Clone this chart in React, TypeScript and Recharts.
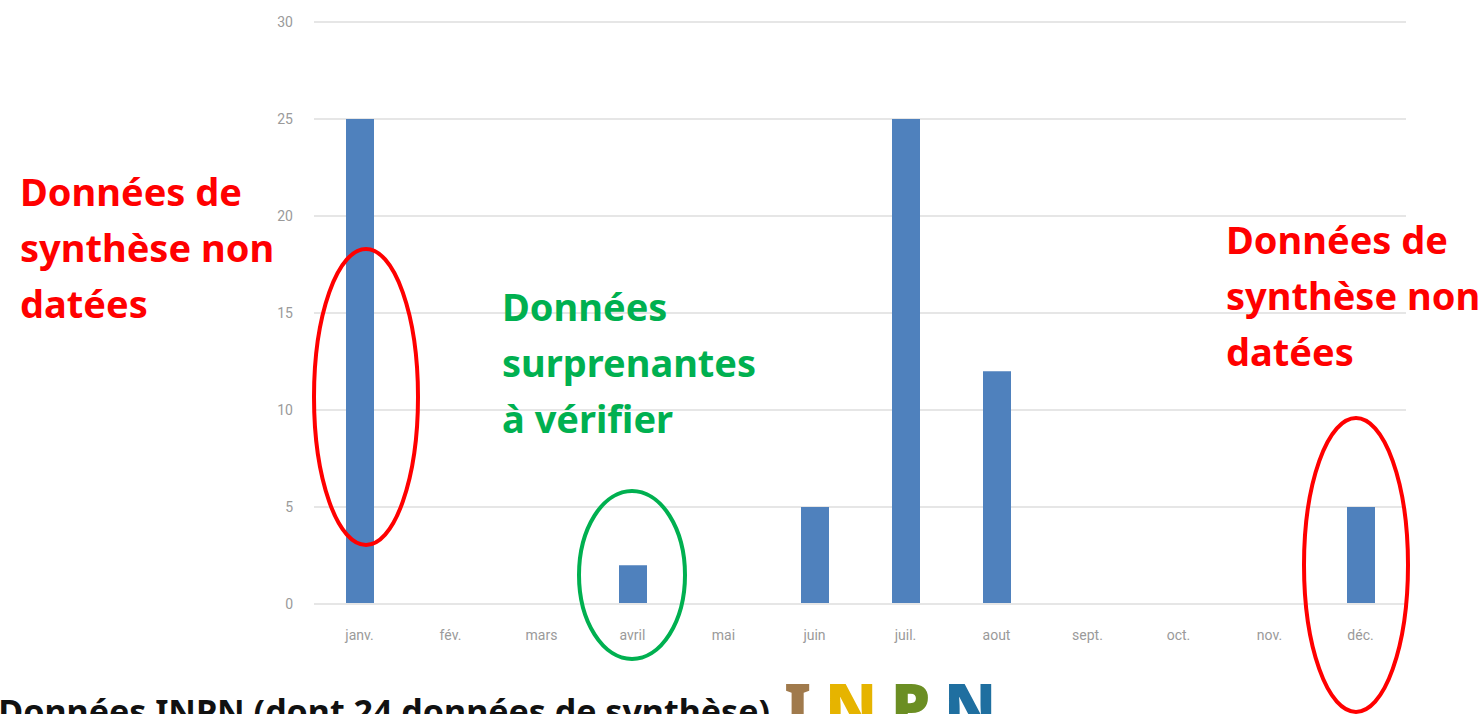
import { BarChart, Bar, XAxis, YAxis, CartesianGrid } from 'recharts'

const MONTHS = ['janv.', 'fév.', 'mars', 'avril', 'mai', 'juin', 'juil.', 'aout', 'sept.', 'oct.', 'nov.', 'déc.']
const COUNTS = [25, 0, 0, 2, 0, 5, 25, 12, 0, 0, 0, 5]
const Y_TICKS = [0, 5, 10, 15, 20, 25, 30]

const LEFT_NOTE = ['Données de', 'synthèse non', 'datées']
const MID_NOTE = ['Données', 'surprenantes', 'à vérifier']
const RIGHT_NOTE = ['Données de', 'synthèse non', 'datées']

const data = MONTHS.map((month, i) => ({ month, count: COUNTS[i] }))

const RED = '#ff0000'
const GREEN = '#00b050'
const NOTE_FONT = '"Noto Sans", sans-serif'

function Note({ lines, x, y, color }: { lines: string[]; x: number; y: number; color: string }) {
  return (
    <text x={x} y={y} fill={color} fontFamily={NOTE_FONT} fontWeight={700} fontSize={38}>
      {lines.map((line, i) => (
        <tspan key={i} x={x} dy={i === 0 ? 0 : 56}>
          {line}
        </tspan>
      ))}
    </text>
  )
}

export default function App() {
  return (
    <div style={{ position: 'absolute', left: 0, top: 0, width: 1483, height: 714, overflow: 'hidden', background: '#fff' }}>
      <BarChart
        width={1483}
        height={714}
        data={data}
        margin={{ top: 22, right: 77, left: 0, bottom: 80 }}
      >
        <CartesianGrid vertical={false} stroke="#e6e6e6" strokeWidth={2} />
        <XAxis
          dataKey="month"
          height={30}
          axisLine={{ stroke: '#e6e6e6', strokeWidth: 2 }}
          tickLine={false}
          tickMargin={20}
          tick={{ fill: '#9a9a9a', fontSize: 14, fontFamily: 'Roboto, sans-serif' }}
        />
        <YAxis
          width={314}
          domain={[0, 30]}
          ticks={Y_TICKS}
          axisLine={false}
          tickLine={false}
          tickMargin={15}
          tick={{ fill: '#9a9a9a', fontSize: 14, fontFamily: 'Roboto, sans-serif' }}
        />
        <Bar dataKey="count" fill="#4f81bd" barSize={28} isAnimationActive={false} />
      </BarChart>

      <svg width={1483} height={714} style={{ position: 'absolute', left: 0, top: 0, pointerEvents: 'none' }}>
        <Note lines={LEFT_NOTE} x={20} y={206} color={RED} />
        <Note lines={MID_NOTE} x={502} y={321} color={GREEN} />
        <Note lines={RIGHT_NOTE} x={1226} y={254} color={RED} />

        <ellipse cx={366} cy={397} rx={52} ry={148} fill="none" stroke={RED} strokeWidth={4} />
        <ellipse cx={632} cy={575} rx={53} ry={84} fill="none" stroke={GREEN} strokeWidth={4} />
        <ellipse cx={1356} cy={565} rx={52} ry={147} fill="none" stroke={RED} strokeWidth={4} />

        <text x={770} y={724} textAnchor="end" fill="#111" fontFamily={NOTE_FONT} fontWeight={700} fontSize={34}>
          Données INPN (dont 24 données de synthèse)
        </text>
        <text x={784} y={728} fontFamily={NOTE_FONT} fontWeight={900} fontSize={62} letterSpacing={14}>
          <tspan fill="#a07a4c">I</tspan>
          <tspan fill="#e6b400">N</tspan>
          <tspan fill="#6b8e23">P</tspan>
          <tspan fill="#1f6fa0">N</tspan>
        </text>
      </svg>
    </div>
  )
}
